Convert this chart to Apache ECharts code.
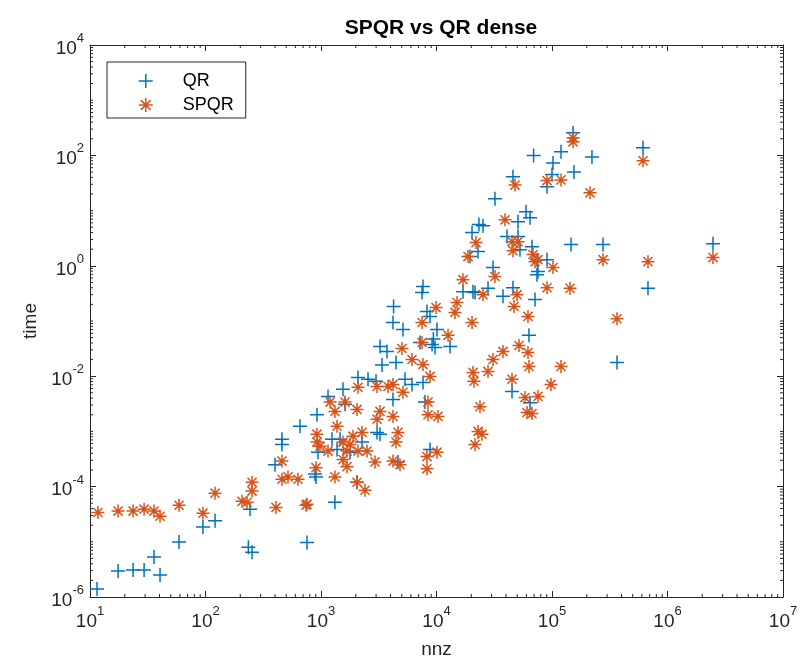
<!DOCTYPE html>
<html>
<head>
<meta charset="utf-8">
<script src="https://cdn.jsdelivr.net/npm/echarts@6/dist/echarts.min.js"></script>
<style>
html, body { margin: 0; padding: 0; background: #fff; }
#main { width: 801px; height: 664px; }
</style>
</head>
<body>
<div id="main"></div>
<script>
// QR timings (nnz vs time)
var qrNnz = [11.5, 17.5, 23.6, 29.4, 35.8, 40.4, 59, 95, 121, 243, 235, 253,
  400, 459, 459, 658, 757, 906, 942, 923, 1150, 1550, 1614, 2090, 2553, 2995,
  3375, 3244, 3727, 4250, 4200, 5125, 4460, 5333, 6132, 7640, 4200, 7946, 7197,
  9150, 9710, 13100, 7640, 7490, 8270, 8790, 10100, 16960, 20700, 27930, 22870,
  30840, 19500, 20300, 23300, 25290, 32080, 45940, 59600, 64540, 50800, 40780,
  50800, 67140, 90580, 74130, 75640, 71260, 37640, 45940, 21550, 63220, 365600,
  45060, 64540, 152100, 69300, 119700, 102000, 100000, 90580, 154900, 221800,
  613800, 146200, 276600, 2477000, 677600, 2265, 1245, 1462, 3056, 1783, 2050,
  887, 8790, 4640, 1320, 1377, 3244, 52840, 74130, 9400];
var qrTime = [1.4e-6, 2.95e-6, 3.1e-6, 3.1e-6, 5.3e-6, 2.5e-6, 9.9e-6, 1.85e-5, 2.4e-5, 3.9e-5, 8.0e-6, 6.5e-6,
  2.5e-4, 7.2e-4, 5.8e-4, 1.24e-3, 9.7e-6, 1.5e-4, 4.2e-4, 2.0e-3, 4.3e-3, 5.8e-3, 3.1e-3, 9.5e-3, 8.8e-3, 8.1e-3,
  0.016, 0.0346, 0.028, 0.183, 0.094, 0.070, 0.0178, 0.0088, 0.0071, 0.0077, 0.0038, 0.0034, 0.0408,
  0.0376, 0.0332, 0.0346, 0.42, 0.33, 0.149, 0.121, 0.070, 0.34, 0.34, 0.39, 1.81,
  0.93, 1.47, 4.0, 5.6, 5.3, 16.4, 41, 9.5, 7.4, 6.3, 3.4,
  3.4, 2.22, 1.29, 0.69, 0.785, 0.245, 0.28, 0.40, 0.33, 0.055, 0.0178,
  0.0053, 0.0033, 256, 100, 116, 73, 45, 27, 50, 94,
  137, 2.42, 2.42, 2.52, 0.39, 6.4e-4, 7.2e-4, 7.2e-4, 9.6e-4, 4.2e-4, 1.2e-4,
  1.7e-4, 4.7e-4, 2.8e-4, 5.2e-5, 4.7e-4, 8.9e-4, 1.96, 1.29, 0.047];

// SPQR timings
var spqrNnz = [11.7, 17.5, 23.6, 29.4, 35.8, 40.4, 59, 95, 121, 207, 229, 253, 253,
  408, 459, 459, 518, 632, 741, 906, 923, 923, 980, 1150, 1200, 1320, 1614, 2050,
  1377, 1550, 1783, 1892, 2265, 1680, 1550, 1680, 2090, 2502, 2936, 1320, 2050,
  2405, 757, 2090, 3056, 3800, 4200, 3244, 3056, 4200, 5025, 6132, 7640, 8790,
  5125, 8440, 8440, 10300, 4640, 4460, 4200, 4830, 8270, 10100, 8270, 20700,
  21100, 27930, 30840, 37640, 51800, 45060, 58400, 23800, 22870, 21550, 24770,
  60810, 9910, 7490, 7490, 12590, 39180, 21970, 18740, 45060, 50800, 45940,
  68440, 71260, 102000, 16960, 32080, 90580, 143200, 15060, 14460, 25290, 49770,
  46890, 61950, 20300, 61950, 152100, 152100, 47840, 90580, 119700, 213300,
  613800, 276600, 677600, 2477000, 365600, 63220, 119700, 97970, 75640, 67140,
  75640];
var spqrTime = [3.4e-5, 3.6e-5, 3.6e-5, 3.9e-5, 3.6e-5, 2.9e-5, 4.6e-5, 3.3e-5, 7.6e-5, 5.4e-5, 5.2e-5, 1.2e-4, 8.3e-5,
  4.2e-5, 2.9e-4, 1.36e-4, 1.5e-4, 1.36e-4, 4.6e-5, 2.2e-4, 8.9e-4, 6.4e-4, 5.4e-4, 4.4e-4, 3.4e-3, 2.3e-3, 3.4e-3, 2.5e-3,
  1.24e-3, 6.4e-4, 5.8e-4, 8.2e-4, 9.6e-4, 4.4e-4, 3.1e-4, 2.3e-4, 4.4e-4, 4.4e-4, 2.8e-4, 1.5e-4, 1.2e-4,
  8.6e-5, 4.8e-5, 6.3e-3, 6.5e-3, 6.5e-3, 7.1e-3, 2.3e-3, 1.66e-3, 1.87e-3, 0.0318, 0.0201, 0.0163, 0.0099,
  5.1e-3, 3.4e-3, 2.0e-3, 1.87e-3, 9.6e-4, 6.4e-4, 2.9e-4, 2.5e-4, 3.5e-4, 4.2e-4, 2.1e-4, 0.0117,
  0.0081, 0.0122, 0.0201, 0.0281, 0.036, 0.0088, 0.0041, 0.0028, 1.0e-3, 5.8e-4, 8.9e-4,
  0.0022, 0.175, 0.094, 0.0408, 0.055, 6.8, 2.63, 1.47, 2.74, 2.74, 1.88,
  1.6, 1.19, 0.93, 0.56, 0.64, 0.40, 0.39, 0.216, 0.143, 0.30, 0.30,
  0.183, 0.121, 0.094, 0.0269, 208, 176, 29, 35, 36, 21,
  80, 1.29, 1.19, 1.41, 0.11, 0.015, 0.015, 0.0071, 0.0043, 0.0021,
  1.29];

// axis settings
var xMin = 10, xMax = 1e7;
var yMin = 1e-6, yMax = 1e4;
var xDecades = [1, 2, 3, 4, 5, 6];
var yDecades = [-6, -5, -4, -3, -2, -1, 0, 1, 2, 3];
var minorMultipliers = [2, 3, 4, 5, 6, 7, 8, 9];

var QR_COLOR = '#0072BD';
var SPQR_COLOR = '#D95319';
var AXIS_COLOR = '#262626';
var FONT = '"Liberation Sans", Arial, Helvetica, sans-serif';

var plusPath = 'path://M5,0L5,10M0,5L10,5';
var starPath = 'path://M5,0L5,10M0,5L10,5M1.5,1.5L8.5,8.5M8.5,1.5L1.5,8.5';

function pairs(xs, ys) {
  var out = [];
  for (var i = 0; i < xs.length; i++) out.push([xs[i], ys[i]]);
  return out;
}

// minor tick values (MATLAB style log ticks)
var xMinor = [];
xDecades.forEach(function (e) {
  minorMultipliers.forEach(function (m) { xMinor.push([m * Math.pow(10, e), 1]); });
});
var yMinor = [];
yDecades.forEach(function (e) {
  if (e % 2 !== 0) yMinor.push([100, Math.pow(10, e)]);
  minorMultipliers.forEach(function (m) { yMinor.push([100, m * Math.pow(10, e)]); });
});

function expLabel(value) {
  var e = Math.round(Math.log10(value));
  return '{b|10}{s|' + e + '}';
}

var labelRich = {
  b: { fontSize: 19, fontFamily: FONT, color: AXIS_COLOR, lineHeight: 26, verticalAlign: 'bottom' },
  s: { fontSize: 13, fontFamily: FONT, color: AXIS_COLOR, lineHeight: 14, verticalAlign: 'top' }
};

function logAxis(pos, min, max, interval, withLabels) {
  return {
    type: 'log',
    logBase: 10,
    position: pos,
    min: min,
    max: max,
    interval: interval,
    splitLine: { show: false },
    axisLine: { show: true, lineStyle: { color: AXIS_COLOR, width: 1 } },
    axisTick: { show: true, inside: true, length: 6, lineStyle: { color: AXIS_COLOR } },
    axisLabel: withLabels ? {
      show: true,
      formatter: expLabel,
      rich: labelRich,
      margin: pos === 'bottom' ? 8 : 6,
      hideOverlap: false
    } : { show: false }
  };
}

function minorTickRender(dir) {
  return function (params, api) {
    var len = 3;
    var st = { stroke: AXIS_COLOR, lineWidth: 1 };
    if (dir === 'x') {
      var v = api.value(0);
      var b = api.coord([v, yMin]);
      var t = api.coord([v, yMax]);
      return { type: 'group', children: [
        { type: 'line', shape: { x1: b[0], y1: b[1], x2: b[0], y2: b[1] - len }, style: st },
        { type: 'line', shape: { x1: t[0], y1: t[1], x2: t[0], y2: t[1] + len }, style: st }
      ] };
    }
    var w = api.value(1);
    var l = api.coord([xMin, w]);
    var r = api.coord([xMax, w]);
    return { type: 'group', children: [
      { type: 'line', shape: { x1: l[0], y1: l[1], x2: l[0] + len, y2: l[1] }, style: st },
      { type: 'line', shape: { x1: r[0], y1: r[1], x2: r[0] - len, y2: r[1] }, style: st }
    ] };
  };
}

var chart = echarts.init(document.getElementById('main'));

var xMain = logAxis('bottom', xMin, xMax, 1, true);
xMain.name = 'nnz';
xMain.nameLocation = 'middle';
xMain.nameGap = 43;
xMain.nameTextStyle = { fontFamily: FONT, fontSize: 19, color: AXIS_COLOR };

var yMain = logAxis('left', yMin, yMax, 2, true);
yMain.name = 'time';
yMain.nameLocation = 'middle';
yMain.nameGap = 38;
yMain.nameTextStyle = { fontFamily: FONT, fontSize: 19, color: AXIS_COLOR };

var option = {
  animation: false,
  backgroundColor: '#fff',
  title: {
    text: 'SPQR vs QR dense',
    left: 436,
    top: 13,
    textAlign: 'center',
    textStyle: { fontFamily: FONT, fontSize: 21, fontWeight: 'bold', color: '#000' }
  },
  grid: { left: 90, right: 18, top: 45, bottom: 66, containLabel: false },
  legend: {
    orient: 'vertical',
    left: 107,
    top: 62,
    padding: [10, 12, 4, 31],
    itemWidth: 14,
    itemHeight: 14,
    itemGap: 6,
    selectedMode: false,
    borderColor: AXIS_COLOR,
    borderWidth: 1,
    backgroundColor: '#fff',
    textStyle: { fontFamily: FONT, fontSize: 18, color: '#000', lineHeight: 14, padding: [0, 0, 0, 25] },
    data: [
      { name: 'QR', icon: plusPath, itemStyle: { color: 'rgba(0,0,0,0)', borderColor: QR_COLOR, borderWidth: 1.5 } },
      { name: 'SPQR', icon: starPath, itemStyle: { color: 'rgba(0,0,0,0)', borderColor: SPQR_COLOR, borderWidth: 1.5 } }
    ]
  },
  xAxis: [xMain, logAxis('top', xMin, xMax, 1, false)],
  yAxis: [yMain, logAxis('right', yMin, yMax, 2, false)],
  series: [
    {
      name: 'xMinorTicks', type: 'custom', xAxisIndex: 0, yAxisIndex: 0,
      renderItem: minorTickRender('x'), data: xMinor, silent: true, clip: false, z: 1
    },
    {
      name: 'yMinorTicks', type: 'custom', xAxisIndex: 0, yAxisIndex: 0,
      renderItem: minorTickRender('y'), data: yMinor, silent: true, clip: false, z: 1
    },
    {
      name: 'QR', type: 'scatter', xAxisIndex: 0, yAxisIndex: 0,
      data: pairs(qrNnz, qrTime),
      symbol: plusPath, symbolSize: 14,
      itemStyle: { color: 'rgba(0,0,0,0)', borderColor: QR_COLOR, borderWidth: 1.5, opacity: 1 },
      emphasis: { disabled: true }, z: 3
    },
    {
      name: 'SPQR', type: 'scatter', xAxisIndex: 0, yAxisIndex: 0,
      data: pairs(spqrNnz, spqrTime),
      symbol: starPath, symbolSize: 13,
      itemStyle: { color: 'rgba(0,0,0,0)', borderColor: SPQR_COLOR, borderWidth: 1.5, opacity: 1 },
      emphasis: { disabled: true }, z: 4
    }
  ]
};

chart.setOption(option);
</script>
</body>
</html>
